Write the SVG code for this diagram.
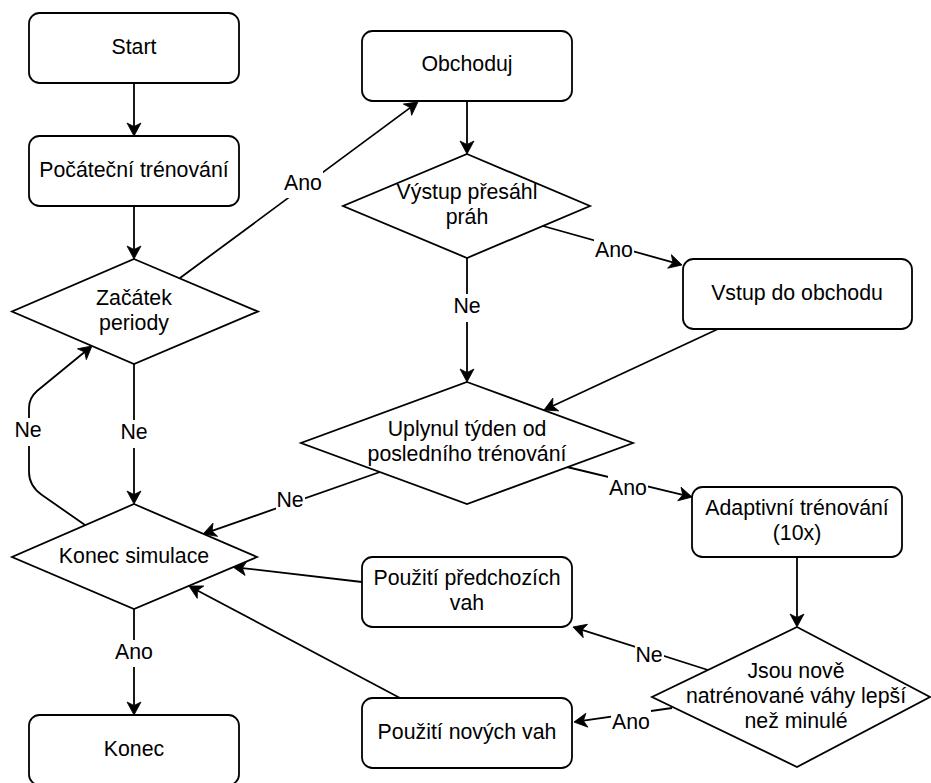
<svg xmlns="http://www.w3.org/2000/svg" width="931" height="783" viewBox="0 0 931 783">
  <style>
    .box { fill: #ffffff; stroke: #000000; stroke-width: 1.8; }
    .edge { fill: none; stroke: #000000; stroke-width: 1.8; }
    text { font-family: "Liberation Sans", Arial, Helvetica, sans-serif; font-size: 21.3px; fill: #000000; text-anchor: middle; }
    .lblbg { fill: #ffffff; stroke: none; }
  </style>
  <defs>
    <marker id="arrow" markerUnits="userSpaceOnUse" markerWidth="16" markerHeight="16" viewBox="-1 -8 15 16" refX="3.5" refY="0" orient="auto">
      <path d="M0,-7 L13,0 L0,7 L3.5,0 Z" fill="#000000" stroke="#000000" stroke-width="0.8" stroke-linejoin="miter"/>
    </marker>
  </defs>
  <rect width="931" height="783" fill="#ffffff"/>

  <!-- connectors -->
  <g id="connectors">
    <path class="edge" d="M134,83 L134,126.5" marker-end="url(#arrow)"/>
    <path class="edge" d="M134,206 L134,249.5" marker-end="url(#arrow)"/>
    <path class="edge" d="M180,278 L410.3,107.6" marker-end="url(#arrow)"/>
    <path class="edge" d="M134,364 L134,494.5" marker-end="url(#arrow)"/>
    <path class="edge" d="M467,101 L467,144.5" marker-end="url(#arrow)"/>
    <path class="edge" d="M543,226 L672.9,262.4" marker-end="url(#arrow)"/>
    <path class="edge" d="M467,258 L467,372.5" marker-end="url(#arrow)"/>
    <path class="edge" d="M718,329 L552.6,406" marker-end="url(#arrow)"/>
    <path class="edge" d="M380,472 L212,530.9" marker-end="url(#arrow)"/>
    <path class="edge" d="M567,467 L682.8,494.8" marker-end="url(#arrow)"/>
    <path class="edge" d="M797,557 L797,617.5" marker-end="url(#arrow)"/>
    <path class="edge" d="M708,670 L582,629.9" marker-end="url(#arrow)"/>
    <path class="edge" d="M672,708 L583.4,720.7" marker-end="url(#arrow)"/>
    <path class="edge" d="M362,582 L242.4,568.1" marker-end="url(#arrow)"/>
    <path class="edge" d="M400,698 L197.4,590.5" marker-end="url(#arrow)"/>
    <path class="edge" d="M134,609 L134,705.5" marker-end="url(#arrow)"/>
    <path class="edge" d="M85,525 L42,495 Q29,486 29,472 L29,408 Q29,398 37,391 L84.6,352" marker-end="url(#arrow)"/>

    <!-- edge labels -->
    <g id="lbl-zacatek-obchoduj">
      <rect class="lblbg" x="283" y="171" width="40" height="27"/>
      <text x="303" y="190">Ano</text>
    </g>
    <g id="lbl-vystup-vstup">
      <rect class="lblbg" x="594" y="238" width="40" height="27"/>
      <text x="614" y="257">Ano</text>
    </g>
    <g id="lbl-vystup-uplynul">
      <rect class="lblbg" x="452" y="294" width="30" height="28"/>
      <text x="467" y="313">Ne</text>
    </g>
    <g id="lbl-zacatek-konec">
      <rect class="lblbg" x="119" y="420" width="30" height="28"/>
      <text x="134" y="439">Ne</text>
    </g>
    <g id="lbl-loop">
      <rect class="lblbg" x="13" y="418" width="30" height="28"/>
      <text x="28" y="437">Ne</text>
    </g>
    <g id="lbl-uplynul-konec">
      <rect class="lblbg" x="276" y="488" width="29" height="27"/>
      <text x="290" y="507">Ne</text>
    </g>
    <g id="lbl-uplynul-adaptivni">
      <rect class="lblbg" x="608" y="476" width="40" height="27"/>
      <text x="628" y="495">Ano</text>
    </g>
    <g id="lbl-jsou-predchozi">
      <rect class="lblbg" x="635" y="643" width="29" height="27"/>
      <text x="649" y="662">Ne</text>
    </g>
    <g id="lbl-jsou-nove">
      <rect class="lblbg" x="611" y="710" width="40" height="27"/>
      <text x="631" y="729">Ano</text>
    </g>
    <g id="lbl-konec-ano">
      <rect class="lblbg" x="114" y="640" width="40" height="27"/>
      <text x="134" y="659">Ano</text>
    </g>
  </g>

  <!-- nodes -->
  <g id="start">
    <rect class="box" x="29" y="13" width="210" height="70" rx="10.5"/>
    <text x="134" y="53.5">Start</text>
  </g>
  <g id="pocatecni-trenovani">
    <rect class="box" x="29" y="136" width="210" height="70" rx="10.5"/>
    <text x="134" y="176.5">Počáteční trénování</text>
  </g>
  <g id="zacatek-periody">
    <polygon class="box" points="134,259 258,311.5 134,364 12,311.5"/>
    <text x="134" y="304.5">Začátek</text>
    <text x="134" y="329.5">periody</text>
  </g>
  <g id="konec-simulace">
    <polygon class="box" points="134,504 257,557 134,609 12,557"/>
    <text x="134" y="562.5">Konec simulace</text>
  </g>
  <g id="konec">
    <rect class="box" x="29" y="715" width="210" height="70" rx="10.5"/>
    <text x="134" y="755.5">Konec</text>
  </g>
  <g id="obchoduj">
    <rect class="box" x="362" y="31" width="210" height="70" rx="10.5"/>
    <text x="467" y="71">Obchoduj</text>
  </g>
  <g id="vystup-presahl-prah">
    <polygon class="box" points="467,154 590,206 467,258 343,206"/>
    <text x="467" y="199">Výstup přesáhl</text>
    <text x="467" y="224">práh</text>
  </g>
  <g id="vstup-do-obchodu">
    <rect class="box" x="683" y="259" width="229" height="70" rx="10.5"/>
    <text x="797" y="299.5">Vstup do obchodu</text>
  </g>
  <g id="uplynul-tyden">
    <polygon class="box" points="467,382 633,443 467,504 301,443"/>
    <text x="467" y="436">Uplynul týden od</text>
    <text x="467" y="461">posledního trénování</text>
  </g>
  <g id="adaptivni-trenovani">
    <rect class="box" x="692" y="487" width="210" height="70" rx="10.5"/>
    <text x="797" y="515">Adaptivní trénování</text>
    <text x="797" y="540">(10x)</text>
  </g>
  <g id="jsou-nove-vahy-lepsi">
    <polygon class="box" points="797,627 930,697 797,767 652,697"/>
    <text x="796" y="677.5">Jsou nově</text>
    <text x="796" y="702.5">natrénované váhy lepší</text>
    <text x="796" y="727.5">než minulé</text>
  </g>
  <g id="pouziti-predchozich-vah">
    <rect class="box" x="362" y="557" width="210" height="70" rx="10.5"/>
    <text x="467" y="585">Použití předchozích</text>
    <text x="467" y="610">vah</text>
  </g>
  <g id="pouziti-novych-vah">
    <rect class="box" x="362" y="698" width="210" height="70" rx="10.5"/>
    <text x="467" y="738.5">Použití nových vah</text>
  </g>
</svg>
